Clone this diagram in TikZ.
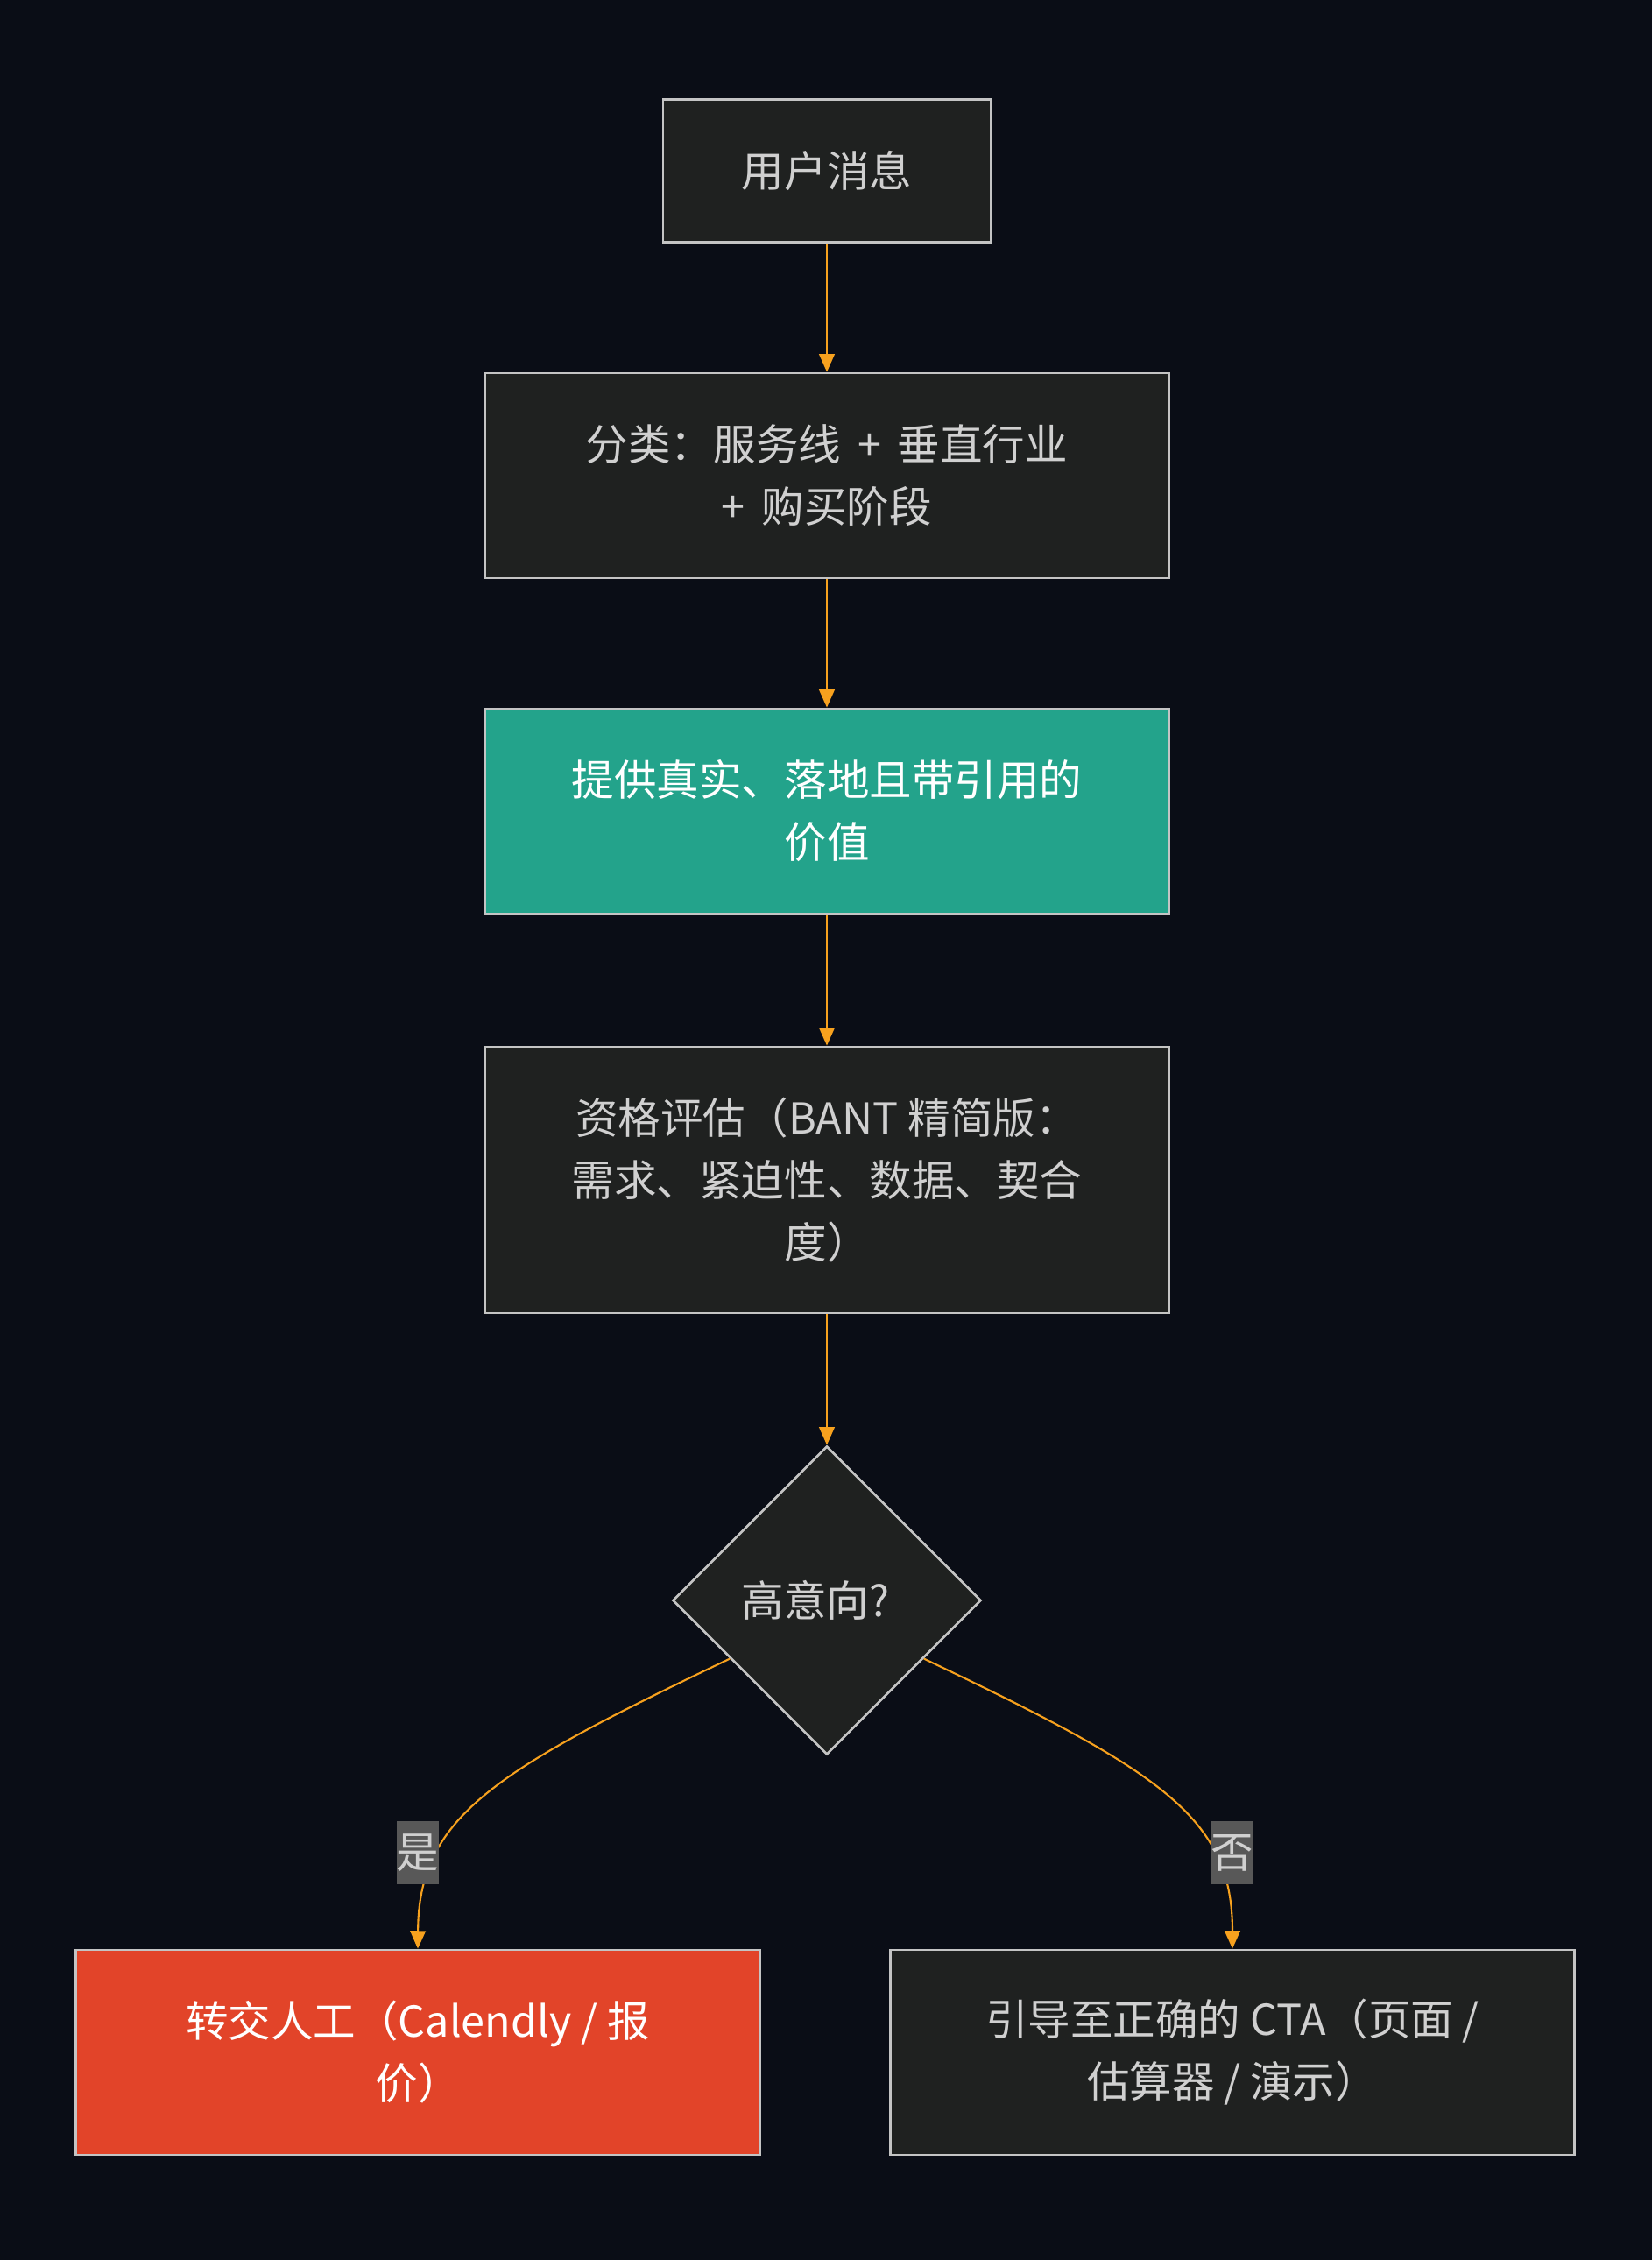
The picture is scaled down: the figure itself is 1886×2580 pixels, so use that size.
\documentclass[tikz,border=0pt]{standalone}
\usepackage{fontspec}
\setmainfont{Noto Sans CJK SC}
\usetikzlibrary{shapes.geometric,arrows.meta}
\definecolor{bg}{HTML}{0A0D16}
\definecolor{boxfill}{HTML}{1F2120}
\definecolor{bordergray}{HTML}{C4C4C4}
\definecolor{txtgray}{HTML}{D0D0D0}
\definecolor{orangeline}{HTML}{F7A11E}
\definecolor{tealfill}{HTML}{23A38B}
\definecolor{redfill}{HTML}{E24429}
\definecolor{labelgray}{HTML}{585858}
\begin{document}
\begin{tikzpicture}[x=0.01cm,y=-0.01cm,
  box/.style={draw=bordergray, line width=0.75pt, fill=boxfill, text=txtgray,
    align=center, minimum width=7.8cm, minimum height=2.34cm, inner sep=0pt,
    font=\fontsize{13.8}{20.2}\selectfont},
  decision/.style={diamond, draw=bordergray, line width=0.75pt, fill=boxfill,
    minimum width=3.52cm, minimum height=3.52cm, inner sep=0pt},
  flow/.style={draw=orangeline, line width=0.6pt, -{Triangle[width=5pt,length=5.8pt]}},
  edgelabel/.style={fill=labelgray, text=txtgray, inner sep=0pt,
    minimum width=0.47cm, minimum height=0.72cm, font=\fontsize{13.8}{20.2}\selectfont},
  plaintext/.style={text=txtgray, inner sep=0pt, font=\fontsize{13.8}{20.2}\selectfont}]
\fill[bg] (0,0) rectangle (1886,2580);
\useasboundingbox (0,0) rectangle (1886,2580);

\node[box, minimum width=3.74cm, minimum height=1.63cm] (n1) at (944,195) {用户消息};
\node[box] (n2) at (944,543) {分类：服务线\,~+~\,垂直行业\\+~\,购买阶段};
\node[box, fill=tealfill, text=white] (n3) at (944,926) {提供真实、落地且带引用的\\价值};
\node[box, minimum height=3.04cm] (n4) at (944,1347) {资格评估（BANT 精简版：\\需求、紧迫性、数据、契合\\度）};
\node[decision] (d) at (944,1827) {};
\node[plaintext] (dtext) at (931,1827) {高意向?};
\node[box, fill=redfill, text=white] (n5) at (477,2343) {转交人工（Calendly / 报\\价）};
\node[box] (n6) at (1407,2343) {引导至正确的 CTA（页面 /\\估算器 / 演示）};

\draw[flow] (n1.south) -- (n2.north);
\draw[flow] (n2.south) -- (n3.north);
\draw[flow] (n3.south) -- (n4.north);
\draw[flow] (n4.south) -- (d.north);
\draw[flow] (d.211) .. controls (561,2023) and (478,2075) .. (n5.north);
\draw[flow] (d.329) .. controls (1327,2023) and (1407,2075) .. (n6.north);

\node[edgelabel] (ly) at (477,2115) {是};
\node[edgelabel] (ln) at (1407,2115) {否};
\end{tikzpicture}
\end{document}
